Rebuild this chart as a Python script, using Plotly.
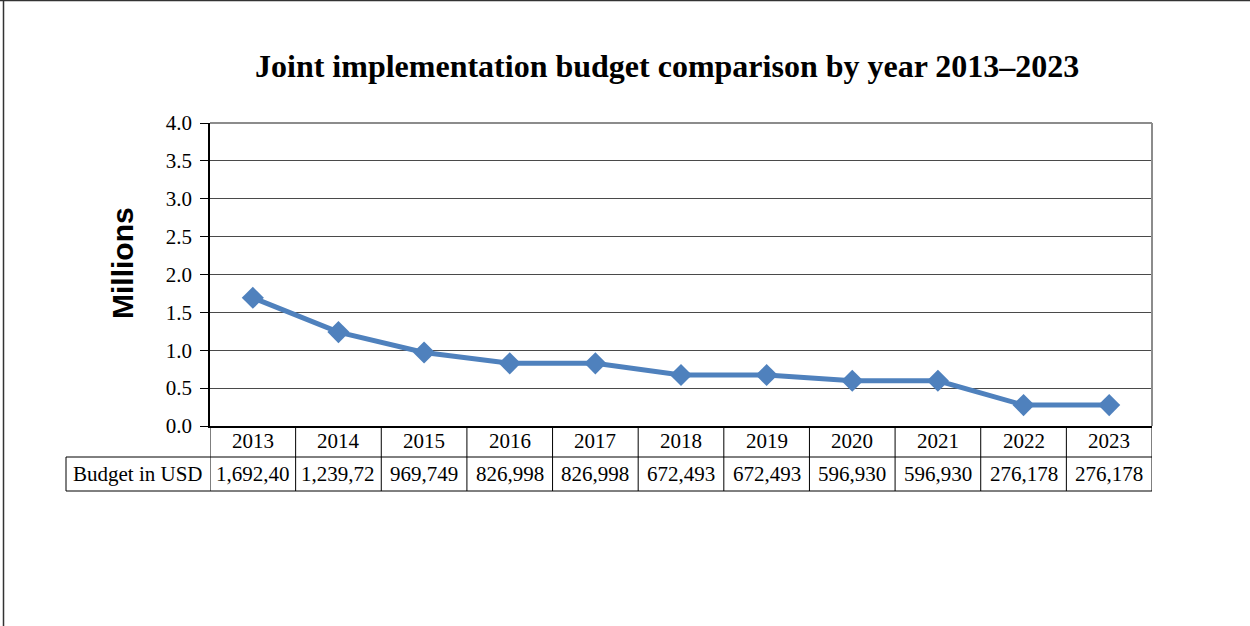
import plotly.graph_objects as go

years = ["2013", "2014", "2015", "2016", "2017", "2018", "2019", "2020", "2021", "2022", "2023"]
budget_usd = [1692400, 1239720, 969749, 826998, 826998, 672493, 672493, 596930, 596930, 276178, 276178]
budget_labels = ["1,692,40", "1,239,72", "969,749", "826,998", "826,998", "672,493",
                 "672,493", "596,930", "596,930", "276,178", "276,178"]
row_header = "Budget in USD"
y_ticks = [0, 0.5, 1.0, 1.5, 2.0, 2.5, 3.0, 3.5, 4.0]

W, H = 1250, 626
L, R, T, B = 210, 98, 123, 200
PW, PH = W - L - R, H - T - B

def px_x(p):
    return (p - L) / PW

def px_y(p):
    return (H - B - p) / PH

idx = list(range(len(years)))
vals_m = [v / 1e6 for v in budget_usd]

fig = go.Figure()
fig.add_trace(go.Scatter(
    x=idx, y=vals_m, mode="lines+markers",
    line=dict(color="#4F81BD", width=5),
    marker=dict(symbol="diamond", size=17, color="#4F81BD"),
    showlegend=False, hoverinfo="skip",
))

serif = "Liberation Serif, Times New Roman, serif"
FS = 21
shapes = []
annotations = []

row1_top, row1_bot, row2_bot = 0, px_y(457), px_y(491)
left_x = px_x(66)

# horizontal table lines
shapes.append(dict(type="line", xref="paper", yref="paper", x0=left_x, x1=1,
                   y0=row1_bot, y1=row1_bot, line=dict(color="#000", width=1)))
shapes.append(dict(type="line", xref="paper", yref="paper", x0=left_x, x1=1,
                   y0=row2_bot, y1=row2_bot, line=dict(color="#000", width=1)))
shapes.append(dict(type="line", xref="paper", yref="paper", x0=left_x, x1=left_x,
                   y0=row1_bot, y1=row2_bot, line=dict(color="#000", width=1)))
# vertical table lines at category boundaries
for i in range(len(years) + 1):
    shapes.append(dict(type="line", xref="x", yref="paper", x0=i - 0.5, x1=i - 0.5,
                       y0=0, y1=row2_bot, line=dict(color="#000", width=1)))

for i, (yr, lab) in enumerate(zip(years, budget_labels)):
    annotations.append(dict(x=i, y=(row1_top + row1_bot) / 2, xref="x", yref="paper",
                            text=yr, showarrow=False, font=dict(family=serif, size=FS, color="#000"),
                            xanchor="center", yanchor="middle"))
    annotations.append(dict(x=i, y=(row1_bot + row2_bot) / 2, xref="x", yref="paper",
                            text=lab, showarrow=False, font=dict(family=serif, size=FS, color="#000"),
                            xanchor="center", yanchor="middle"))
annotations.append(dict(x=(left_x + 0) / 2, y=(row1_bot + row2_bot) / 2, xref="paper", yref="paper",
                        text=row_header, showarrow=False, font=dict(family=serif, size=FS, color="#000"),
                        xanchor="center", yanchor="middle"))

# title
annotations.append(dict(x=px_x(667), y=px_y(66), xref="paper", yref="paper",
                        text="<b>Joint implementation budget comparison by year 2013\u20132023</b>",
                        showarrow=False, font=dict(family=serif, size=32, color="#000"),
                        xanchor="center", yanchor="middle"))
# y-axis title
annotations.append(dict(x=px_x(122), y=px_y(263), xref="paper", yref="paper",
                        text="<b>Millions</b>", textangle=-90, showarrow=False,
                        font=dict(family="Liberation Sans, Arial, sans-serif", size=30, color="#000"),
                        xanchor="center", yanchor="middle"))

# plot frame top/right
shapes.append(dict(type="line", xref="paper", yref="paper", x0=0, x1=1, y0=1, y1=1,
                   line=dict(color="#8c8c8c", width=2)))
shapes.append(dict(type="line", xref="paper", yref="paper", x0=1, x1=1, y0=0, y1=1,
                   line=dict(color="#8c8c8c", width=2)))
# outer image border (top and left)
shapes.append(dict(type="line", xref="paper", yref="paper", x0=px_x(0), x1=px_x(W),
                   y0=px_y(0.5), y1=px_y(0.5), line=dict(color="#333", width=1.5)))
shapes.append(dict(type="line", xref="paper", yref="paper", x0=px_x(3.5), x1=px_x(3.5),
                   y0=px_y(0), y1=px_y(H), line=dict(color="#333", width=1.5)))

fig.update_layout(
    width=W, height=H,
    margin=dict(l=L, r=R, t=T, b=B, pad=0),
    paper_bgcolor="white", plot_bgcolor="white",
    xaxis=dict(range=[-0.5, len(years) - 0.5], showticklabels=False, showgrid=False,
               zeroline=False, showline=True, linecolor="#000", linewidth=1.5, ticks=""),
    yaxis=dict(range=[0, 4], tickvals=y_ticks, tickformat=".1f", showgrid=True,
               gridcolor="#4a4a4a", gridwidth=1, zeroline=False, showline=True,
               linecolor="#000", linewidth=1.5, ticks="outside", ticklen=8, tickcolor="#000",
               ticklabelstandoff=4,
               tickfont=dict(family=serif, size=FS, color="#000")),
    shapes=shapes, annotations=annotations,
)

fig.write_html("out.html")
